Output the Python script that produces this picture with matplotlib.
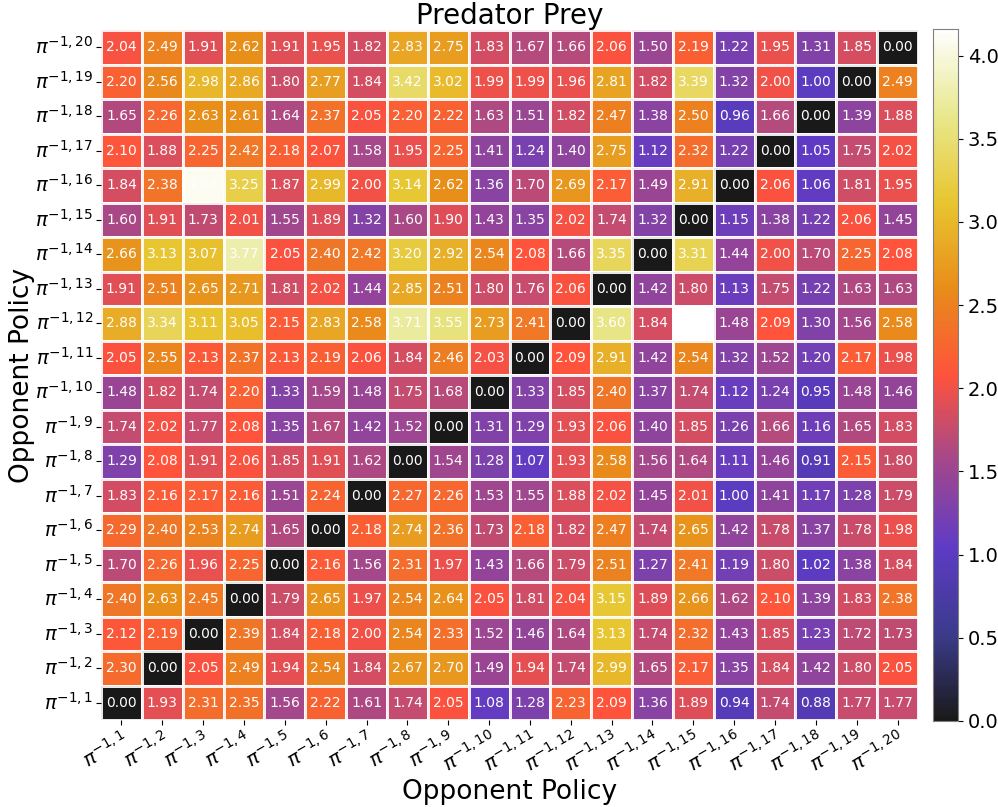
import numpy as np
import matplotlib.pyplot as plt
import seaborn as sns

# Opponent policy indices for rows (y) and columns (x)
policies = list(range(1, 21))

# Cross-play scores, rows listed from policy 20 (top) down to policy 1 (bottom)
row_20 = [2.04, 2.49, 1.91, 2.62, 1.91, 1.95, 1.82, 2.83, 2.75, 1.83, 1.67, 1.66, 2.06, 1.50, 2.19, 1.22, 1.95, 1.31, 1.85, 0.00]
row_19 = [2.20, 2.56, 2.98, 2.86, 1.80, 2.77, 1.84, 3.42, 3.02, 1.99, 1.99, 1.96, 2.81, 1.82, 3.39, 1.32, 2.00, 1.00, 0.00, 2.49]
row_18 = [1.65, 2.26, 2.63, 2.61, 1.64, 2.37, 2.05, 2.20, 2.22, 1.63, 1.51, 1.82, 2.47, 1.38, 2.50, 0.96, 1.66, 0.00, 1.39, 1.88]
row_17 = [2.10, 1.88, 2.25, 2.42, 2.18, 2.07, 1.58, 1.95, 2.25, 1.41, 1.24, 1.40, 2.75, 1.12, 2.32, 1.22, 0.00, 1.05, 1.75, 2.02]
row_16 = [1.84, 2.38, 4.08, 3.25, 1.87, 2.99, 2.00, 3.14, 2.62, 1.36, 1.70, 2.69, 2.17, 1.49, 2.91, 0.00, 2.06, 1.06, 1.81, 1.95]
row_15 = [1.60, 1.91, 1.73, 2.01, 1.55, 1.89, 1.32, 1.60, 1.90, 1.43, 1.35, 2.02, 1.74, 1.32, 0.00, 1.15, 1.38, 1.22, 2.06, 1.45]
row_14 = [2.66, 3.13, 3.07, 3.77, 2.05, 2.40, 2.42, 3.20, 2.92, 2.54, 2.08, 1.66, 3.35, 0.00, 3.31, 1.44, 2.00, 1.70, 2.25, 2.08]
row_13 = [1.91, 2.51, 2.65, 2.71, 1.81, 2.02, 1.44, 2.85, 2.51, 1.80, 1.76, 2.06, 0.00, 1.42, 1.80, 1.13, 1.75, 1.22, 1.63, 1.63]
row_12 = [2.88, 3.34, 3.11, 3.05, 2.15, 2.83, 2.58, 3.71, 3.55, 2.73, 2.41, 0.00, 3.60, 1.84, 4.16, 1.48, 2.09, 1.30, 1.56, 2.58]
row_11 = [2.05, 2.55, 2.13, 2.37, 2.13, 2.19, 2.06, 1.84, 2.46, 2.03, 0.00, 2.09, 2.91, 1.42, 2.54, 1.32, 1.52, 1.20, 2.17, 1.98]
row_10 = [1.48, 1.82, 1.74, 2.20, 1.33, 1.59, 1.48, 1.75, 1.68, 0.00, 1.33, 1.85, 2.40, 1.37, 1.74, 1.12, 1.24, 0.95, 1.48, 1.46]
row_9 = [1.74, 2.02, 1.77, 2.08, 1.35, 1.67, 1.42, 1.52, 0.00, 1.31, 1.29, 1.93, 2.06, 1.40, 1.85, 1.26, 1.66, 1.16, 1.65, 1.83]
row_8 = [1.29, 2.08, 1.91, 2.06, 1.85, 1.91, 1.62, 0.00, 1.54, 1.28, 1.07, 1.93, 2.58, 1.56, 1.64, 1.11, 1.46, 0.91, 2.15, 1.80]
row_7 = [1.83, 2.16, 2.17, 2.16, 1.51, 2.24, 0.00, 2.27, 2.26, 1.53, 1.55, 1.88, 2.02, 1.45, 2.01, 1.00, 1.41, 1.17, 1.28, 1.79]
row_6 = [2.29, 2.40, 2.53, 2.74, 1.65, 0.00, 2.18, 2.74, 2.36, 1.73, 2.18, 1.82, 2.47, 1.74, 2.65, 1.42, 1.78, 1.37, 1.78, 1.98]
row_5 = [1.70, 2.26, 1.96, 2.25, 0.00, 2.16, 1.56, 2.31, 1.97, 1.43, 1.66, 1.79, 2.51, 1.27, 2.41, 1.19, 1.80, 1.02, 1.38, 1.84]
row_4 = [2.40, 2.63, 2.45, 0.00, 1.79, 2.65, 1.97, 2.54, 2.64, 2.05, 1.81, 2.04, 3.15, 1.89, 2.66, 1.62, 2.10, 1.39, 1.83, 2.38]
row_3 = [2.12, 2.19, 0.00, 2.39, 1.84, 2.18, 2.00, 2.54, 2.33, 1.52, 1.46, 1.64, 3.13, 1.74, 2.32, 1.43, 1.85, 1.23, 1.72, 1.73]
row_2 = [2.30, 0.00, 2.05, 2.49, 1.94, 2.54, 1.84, 2.67, 2.70, 1.49, 1.94, 1.74, 2.99, 1.65, 2.17, 1.35, 1.84, 1.42, 1.80, 2.05]
row_1 = [0.00, 1.93, 2.31, 2.35, 1.56, 2.22, 1.61, 1.74, 2.05, 1.08, 1.28, 2.23, 2.09, 1.36, 1.89, 0.94, 1.74, 0.88, 1.77, 1.77]

scores = np.array([row_20, row_19, row_18, row_17, row_16, row_15, row_14, row_13, row_12, row_11,
                   row_10, row_9, row_8, row_7, row_6, row_5, row_4, row_3, row_2, row_1])

x_labels = [r'$\pi^{-1,%d}$' % p for p in policies]
y_labels = [r'$\pi^{-1,%d}$' % p for p in policies[::-1]]

fig = plt.figure(figsize=(9.98, 8.07), dpi=100)
ax = fig.add_axes([101 / 998, 1 - 720 / 807, (918 - 101) / 998, (720 - 30) / 807])
cax = fig.add_axes([933 / 998, 1 - 721 / 807, 25 / 998, (721 - 29) / 807])

sns.heatmap(scores, ax=ax, cbar_ax=cax, cmap='CMRmap', alpha=0.9,
            annot=True, fmt='.2f', annot_kws={'color': 'white', 'fontsize': 10},
            linewidths=2, linecolor='white',
            xticklabels=x_labels, yticklabels=y_labels)

ax.tick_params(axis='both', length=3.5, width=0.8, left=True, bottom=True, pad=2)
ax.set_xticklabels(x_labels, rotation=30, ha='right', fontsize=14, rotation_mode='anchor')
ax.set_yticklabels(y_labels, rotation=0, fontsize=14)
ax.set_title('Predator Prey', fontsize=20, pad=4)
ax.set_xlabel('Opponent Policy', fontsize=19, labelpad=2)
ax.set_ylabel('Opponent Policy', fontsize=19, labelpad=0)

cax.tick_params(labelsize=14)
for spine in cax.spines.values():
    spine.set_visible(True)
    spine.set_edgecolor('gray')

fig.savefig('out.png', dpi=100)
